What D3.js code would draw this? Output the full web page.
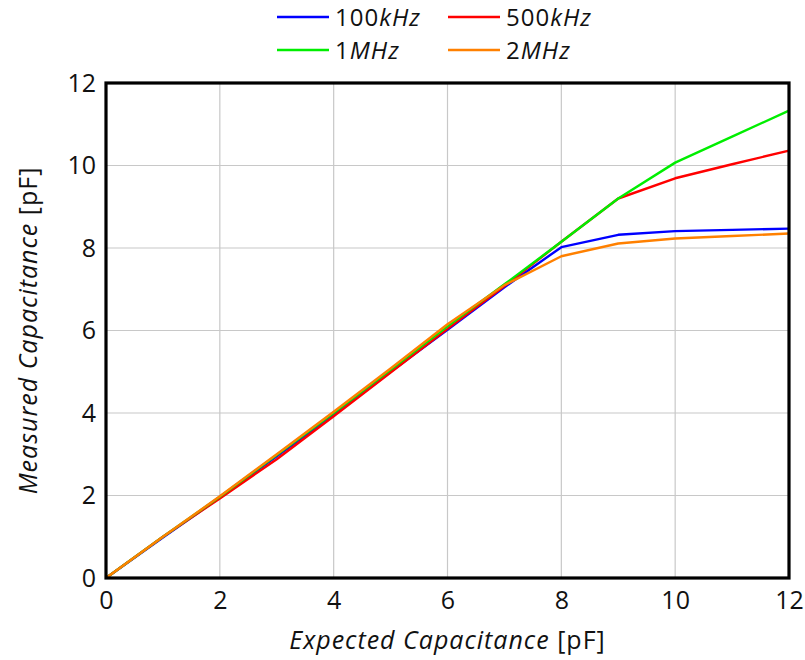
<!DOCTYPE html>
<html lang="en">
<head>
    <meta charset="UTF-8">
    <title>Measured vs Expected Capacitance</title>
    <style>
        body { margin: 0; background: #fff; }
        svg text { font-family: "Open Sans", "DejaVu Sans", sans-serif; fill: #111; }
        .grid line { stroke: #c8c8c8; stroke-width: 1.2; }
    </style>
</head>
<body>
    <svg id="chart"></svg>
    <script src="https://cdnjs.cloudflare.com/ajax/libs/d3/7.9.0/d3.min.js"></script>
    <script>
        // Data
        const expected = [0, 1, 2, 3, 4, 5, 6, 7, 8, 9, 10, 11, 12];
        const khz100 = [0, 0.98, 1.95, 2.95, 3.95, 5.0, 6.02, 7.05, 8.02, 8.32, 8.41, 8.44, 8.47];
        const khz500 = [0, 1.0, 1.93, 2.88, 3.92, 4.98, 6.04, 7.08, 8.15, 9.2, 9.69, 10.03, 10.36];
        const mhz1 = [0, 1.0, 1.97, 2.98, 4.0, 5.05, 6.1, 7.12, 8.15, 9.2, 10.07, 10.7, 11.33];
        const mhz2 = [0, 1.0, 1.98, 3.0, 4.03, 5.08, 6.15, 7.1, 7.8, 8.11, 8.23, 8.29, 8.35];
        const seriesNames = ["100kHz", "500kHz", "1MHz", "2MHz"];
        const seriesColors = ["#0000ff", "#ff0000", "#00ee00", "#ff8000"];
        const ticks = [0, 2, 4, 6, 8, 10, 12];

        const w = 805, h = 660;
        const m = { left: 106, right: 16, top: 83, bottom: 82 };

        const svg = d3.select("#chart").attr("width", w).attr("height", h);

        const x = d3.scaleLinear().domain([0, 12]).range([m.left, w - m.right]);
        const y = d3.scaleLinear().domain([0, 12]).range([h - m.bottom, m.top]);

        // grid
        svg.append("g").attr("class", "grid")
            .selectAll("line.v").data(ticks.slice(1, -1)).enter().append("line")
            .attr("x1", d => x(d)).attr("x2", d => x(d))
            .attr("y1", y(0)).attr("y2", y(12));
        svg.select(".grid")
            .selectAll("line.h").data(ticks.slice(1, -1)).enter().append("line")
            .attr("x1", x(0)).attr("x2", x(12))
            .attr("y1", d => y(d)).attr("y2", d => y(d));

        // lines
        const data = [khz100, khz500, mhz1, mhz2];
        const line = d3.line().x((d, i) => x(expected[i])).y(d => y(d));
        svg.append("g").selectAll("path").data(data).enter().append("path")
            .attr("d", d => line(d))
            .attr("fill", "none")
            .attr("stroke", (d, i) => seriesColors[i])
            .attr("stroke-width", 2.4)
            .attr("stroke-linejoin", "round");

        // frame
        svg.append("rect")
            .attr("x", x(0)).attr("y", y(12))
            .attr("width", x(12) - x(0)).attr("height", y(0) - y(12))
            .attr("fill", "none").attr("stroke", "#000").attr("stroke-width", 3.2);

        // axes
        const xAxis = d3.axisBottom(x).tickValues(ticks).tickSize(0).tickPadding(13);
        const yAxis = d3.axisLeft(y).tickValues(ticks).tickSize(0).tickPadding(10);
        svg.append("g").attr("transform", "translate(0," + y(0) + ")").call(xAxis)
            .call(g => g.select(".domain").remove())
            .selectAll("text").style("font-size", "25px").attr("fill", "#111");
        svg.append("g").attr("transform", "translate(" + x(0) + ",0)").call(yAxis)
            .call(g => g.select(".domain").remove())
            .selectAll("text").style("font-size", "25px").attr("fill", "#111");

        // axis titles
        const xt = svg.append("text").attr("x", (x(0) + x(12)) / 2).attr("y", 649)
            .attr("text-anchor", "middle").style("font-size", "25px").style("letter-spacing", "1px");
        xt.append("tspan").style("font-style", "italic").text("Expected Capacitance ");
        xt.append("tspan").text("[pF]");

        const yt = svg.append("text")
            .attr("transform", "translate(37," + (y(0) + y(12)) / 2 + ") rotate(-90)")
            .attr("text-anchor", "middle").style("font-size", "25px").style("letter-spacing", "1px");
        yt.append("tspan").style("font-style", "italic").text("Measured Capacitance ");
        yt.append("tspan").text("[pF]");

        // legend
        const legendPos = [[277, 17], [448, 17], [277, 50], [448, 50]];
        const lg = svg.append("g").selectAll("g").data(seriesNames).enter().append("g")
            .attr("transform", (d, i) => "translate(" + legendPos[i][0] + "," + legendPos[i][1] + ")");
        lg.append("line").attr("x1", 0).attr("x2", 52).attr("y1", 0).attr("y2", 0)
            .attr("stroke", (d, i) => seriesColors[i]).attr("stroke-width", 2.6);
        const lt = lg.append("text").attr("x", 58).attr("y", 9).style("font-size", "24px").style("letter-spacing", "1px");
        lt.append("tspan").text(d => d.match(/^\d+/)[0]);
        lt.append("tspan").style("font-style", "italic").text(d => d.replace(/^\d+/, ""));
    </script>
</body>
</html>
